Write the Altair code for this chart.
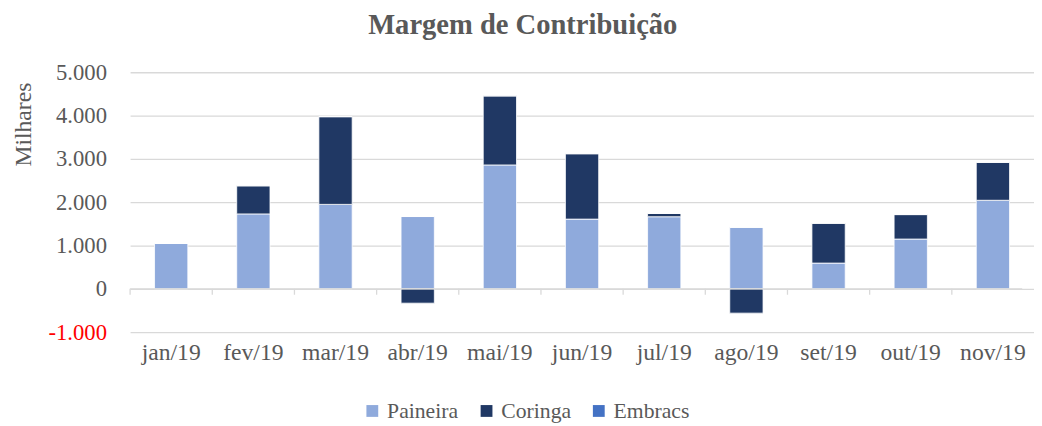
import altair as alt
import pandas as pd

months = ["jan/19", "fev/19", "mar/19", "abr/19", "mai/19", "jun/19",
          "jul/19", "ago/19", "set/19", "out/19", "nov/19"]
paineira = [1050, 1730, 1950, 1670, 2860, 1610, 1665, 1420, 595, 1150, 2045]
coringa = [0, 650, 2025, -330, 1595, 1510, 75, -560, 920, 565, 875]
embracs = [0, 0, 0, 0, 0, 0, 0, 0, 0, 0, 0]
series = ["Paineira", "Coringa", "Embracs"]
colors = ["#8FAADC", "#203864", "#4472C4"]
y_ticks = [-1000, 0, 1000, 2000, 3000, 4000, 5000]

rows = []
for i, m in enumerate(months):
    for k, (name, vals) in enumerate(zip(series, [paineira, coringa, embracs])):
        rows.append({"mes": m, "serie": name, "valor": vals[i], "ordem": k})
df = pd.DataFrame(rows)
ticks_df = pd.DataFrame({"mes": months, "valor": [0] * len(months), "y1": [-135] * len(months)})

FONT = "Liberation Serif"
GRAY = "#595959"

xscale = alt.Scale(domain=months, paddingInner=0, paddingOuter=0, range=[0, 918])
yscale = alt.Scale(domain=[-1000, 5000], nice=False)

xaxis = alt.Axis(title=None, labelAngle=0, ticks=False, domain=False, grid=False,
                 labelFont=FONT, labelFontSize=24, labelColor=GRAY, labelPadding=9)
yaxis = alt.Axis(title="Milhares", values=y_ticks, ticks=False, tickSize=0, domain=False,
                 grid=True, gridColor="#D9D9D9", gridWidth=1.3,
                 labelExpr="(datum.value < 0 ? '-' : '') + replace(format(abs(datum.value), ','), ',', '.')",
                 labelFont=FONT, labelFontSize=23,
                 labelColor=alt.condition("datum.value < 0", alt.value("#FF0000"), alt.value(GRAY)),
                 labelPadding=24, titleFont=FONT, titleFontSize=24, titleFontWeight="normal",
                 titleColor=GRAY, titleAnchor="end", titlePadding=13, titleY=10)

bars = alt.Chart(df).mark_bar(
    width=alt.RelativeBandSize(0.405), stroke="white", strokeWidth=0.8
).encode(
    x=alt.X("mes:N", scale=xscale, sort=months, axis=xaxis),
    y=alt.Y("sum(valor):Q", scale=yscale, stack="zero", axis=yaxis),
    color=alt.Color("serie:N", scale=alt.Scale(domain=series, range=colors),
                    legend=alt.Legend(title=None, orient="none", direction="horizontal",
                                      legendX=235, legendY=333, symbolType="square",
                                      symbolSize=144, symbolStrokeWidth=0, labelFont=FONT,
                                      labelFontSize=22, labelColor=GRAY, columnPadding=17,
                                      labelOffset=4)),
    order=alt.Order("ordem:Q"),
)

tick_marks = alt.Chart(ticks_df).mark_rule(color="#D9D9D9", strokeWidth=1.3).encode(
    x=alt.X("mes:N", scale=xscale, sort=months, bandPosition=0, axis=xaxis),
    y=alt.Y("valor:Q", scale=yscale, axis=yaxis),
    y2="y1:Q",
)

zero_line = alt.Chart(ticks_df).mark_rule(color="#D9D9D9", strokeWidth=1.3).encode(
    y=alt.Y("mean(valor):Q", scale=yscale, axis=yaxis),
)

chart = alt.layer(bars, zero_line, tick_marks).properties(
    width=906, height=264,
    padding={"left": 3, "right": 0, "top": 0, "bottom": 0},
    title=alt.TitleParams("Margem de Contribuição", font=FONT, fontSize=29, fontWeight="bold",
                          color=GRAY, anchor="middle", frame="bounds", offset=22),
).configure(
    font=FONT,
    style={"guide-label": {"font": FONT}, "guide-title": {"font": FONT}},
).configure_view(stroke=None).configure_legend(labelFont=FONT)

chart.save("out.html", embed_options={"renderer": "svg", "actions": False})
